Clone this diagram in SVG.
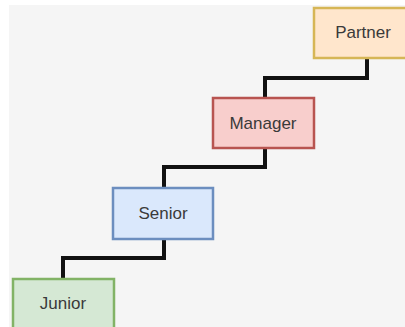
<svg xmlns="http://www.w3.org/2000/svg" width="405" height="327" viewBox="0 0 405 327">
<style>
.box{stroke-width:2.5}
.lbl{font-family:"Liberation Sans",Arial,sans-serif;font-size:17px;fill:#3a3a3a;text-anchor:middle;dominant-baseline:central}
.conn{fill:none;stroke:#111;stroke-width:4;stroke-linejoin:miter}
</style>
<rect x="0" y="0" width="405" height="327" fill="#ffffff"/>
<rect x="9" y="5" width="396" height="322" fill="#f5f5f5"/>
<g id="connectors">
<path class="conn" d="M367,58 V78 H265 V97"/>
<path class="conn" d="M265,148 V167 H164 V187"/>
<path class="conn" d="M164,240 V258 H63 V278"/>
</g>
<g id="partner">
<rect class="box" x="314" y="8" width="100" height="50" fill="#ffe6cc" stroke="#d6b656"/>
<text class="lbl" x="363" y="32">Partner</text>
</g>
<g id="manager">
<rect class="box" x="213" y="98" width="101" height="50" fill="#f8cecc" stroke="#b85450"/>
<text class="lbl" x="263" y="123">Manager</text>
</g>
<g id="senior">
<rect class="box" x="113" y="188" width="100" height="51" fill="#dae8fc" stroke="#6c8ebf"/>
<text class="lbl" x="163" y="213">Senior</text>
</g>
<g id="junior">
<rect class="box" x="13" y="279" width="101" height="52" fill="#d5e8d4" stroke="#82b366"/>
<text class="lbl" x="63" y="303">Junior</text>
</g>
</svg>
